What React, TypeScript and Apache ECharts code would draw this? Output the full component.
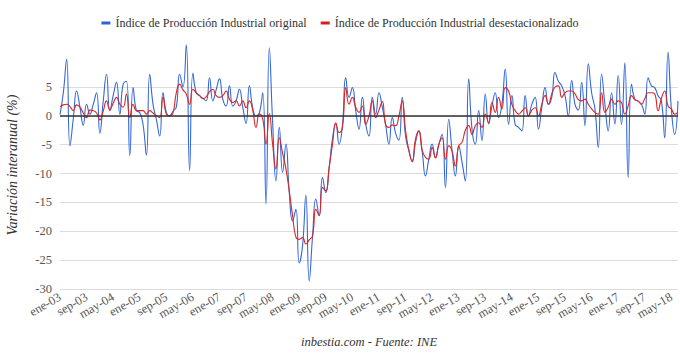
import React, { useEffect, useRef } from "react";
import * as echarts from "echarts";

const MONTH_NAMES = ["ene", "feb", "mar", "abr", "may", "jun", "jul", "ago", "sep", "oct", "nov", "dic"];
const START_YEAR = 2003;
const N_POINTS = 187; // ene-03 .. jul-18

const categories: string[] = [];
for (let k = 0; k < N_POINTS; k++) {
  const y = START_YEAR + Math.floor(k / 12);
  categories.push(MONTH_NAMES[k % 12] + "-" + String(y % 100).padStart(2, "0"));
}

const ipiOriginal = [
  0.2, 4, 9.8, -5.2, -0.5, 4.3, 1.5, -1.6, 2.0, 0.3, 2.0, 4.0,
  -3.0, 2.5, 7.2, 0.9, 3.5, 5.8, 0.3, 5.5, 6.0, -6.9, 4.9, 0.9,
  0.6, -1.5, -6.8, 7.2, 2.0, -0.6, -3.5, 4.0, 0.6, 0, 0.8, 1.5,
  7.2, 5.0, 12.3, -9.5, 7.4, 4.0, 3.5, 3.0, 2.6, 6.6, 2.6, 4.5,
  6.4, 2.9, 1.7, 5.2, 1.7, 2.6, 4.6, 1.5, -1.3, 5.2, 1.4, 0,
  0.5, 4.0, -15.3, 11.8, -1.2, -11.3, -2.0, -9.8, -4.9, -13.3, -18.2, -16.2,
  -25.5, -22.5, -13.7, -28.6, -21, -14.4, -17.3, -10.7, -13.3, -9, -4, -1.4,
  -4.9, -1.7, 6.6, 3.2, 4.9, 0.9, -2.3, 3.2, -1.4, -3.5, 3.2, 0.3,
  4.0, 1.5, -1.5, -4.9, -0.3, -3, -4.2, 3.2, -3.5, -6, -7.8, -4.6,
  -2.6, -6.1, -10.4, -7.5, -4.9, -7.2, -5, -3.2, -12.4, -0.6, -6, -10.4,
  -5.2, -8, -11.3, 6.4, -2.3, -4.9, 0.9, -4.3, 3.8, -1.4, 1.7, 4.0,
  -0.3, 2.0, 8.1, -1.5, 3.5, -1.5, -2.0, -2.6, 3.5, 0, 2, 3.2,
  -2.3, 1.4, 4.9, 2.0, 3.2, 7.5, 6, 5.2, 3.5, 0, 6.1, 2.0,
  1.0, 5.8, -1.7, 9.0, 4.0, 1.2, -5.5, 7.2, 2.0, -2.6, 4.0, -1.4,
  7.0, -1.5, 9.2, -10.7, 5.5, 2.9, 2.5, 2.0, 0.3, 6.6, 5.2, 4.9,
  3.5, 2.6, -3.8, 11.0, 1.2, -3.2, 2.6,
];

const ipiDesest = [
  1.6, 1.9, 2.0, 1.6, 0.9, 1.9, 1.5, 0.5, -0.3, 1.0, 0.9, 0.5,
  -0.7, 0.8, 2.6, 1.0, 2.2, 3.2, 2.0, 1.5, 3.8, -0.3, 2.0, 0.9,
  0.9, 0.9, 0.3, 0.9, 0.5, 0, -0.3, 3.2, 0.3, 0, 0.5, 4.0,
  5.5, 4.5, 3.8, 2.0, 4.6, 4.0, 3.5, 3.0, 3.3, 4.2, 4.6, 3.5,
  3.2, 3.5, 4.3, 2.9, 2.3, 2.6, 1.7, 2.6, 1.4, 2.6, 1.0, -2.0,
  0.3, -0.5, -4.9, 0.4, -5, -9.2, -3.8, -6.5, -9.2, -13, -17.3, -21.0,
  -21.4, -21.1, -22.2, -21.5, -20.8, -16.2, -17.3, -12.4, -13, -9, -5, -1.2,
  -2.9, -2, 4.9, 2.0, 3.2, 1.5, 0.6, 1.7, -1.5, 0, 2.6, -0.3,
  1.0, 2.5, -1.5, -2.0, -1.6, -1.7, 0, 2.6, -2.5, -6, -8, -4,
  -2.6, -6, -7.2, -7.5, -5.5, -7.3, -5, -3.8, -7.5, -5.2, -6.1, -8.7,
  -5.2, -4.6, -2.5, -1.7, -3.2, -1.7, -1.2, -2.0, 0.3, -1.2, 2.3, 0.6,
  3.2, 1.2, 4.9, 4.3, 2, 0.9, 0.3, 0.8, 1.4, 0, 1.0, 1.4,
  0, 2.0, 3.5, 2.0, 3.8, 5.0, 5.2, 3.2, 4.0, 4.3, 4.3, 3.8,
  2.8, 2.6, 2.9, 2.0, 1.2, 0.6, 0.3, 4.0, 0.6, 1.5, 2.9, 2.0,
  2.6, 2.3, 0.3, 1.7, 3.5, 2.8, 2.6, 2.0, 3.0, 4.0, 4.0, 3.8,
  0.9, 3.0, 4.3, 1.7, 1.2, 0.3, 0.6,
];

const SERIES_NAMES = [
  "Índice de Producción Industrial original",
  "Índice de Producción Industrial desestacionalizado",
];
const Y_TITLE = "Variación interanual (%)";
const SOURCE = "inbestia.com - Fuente: INE";

const FONT = "'Liberation Serif', 'Times New Roman', serif";

export default function App() {
  const ref = useRef<HTMLDivElement>(null);
  useEffect(() => {
    if (!ref.current) return;
    const chart = echarts.init(ref.current, null, { renderer: "svg" });
    chart.setOption({
      animation: false,
      backgroundColor: "#ffffff",
      textStyle: { fontFamily: FONT },
      legend: {
        top: 12,
        left: "center",
        icon: "rect",
        itemWidth: 9,
        itemHeight: 3,
        itemGap: 14,
        textStyle: { fontFamily: FONT, fontSize: 12, color: "#333" },
        data: SERIES_NAMES,
      },
      grid: { left: 60, right: 2, top: 87, bottom: 64 },
      xAxis: {
        type: "category",
        data: categories,
        boundaryGap: false,
        axisLine: { show: false },
        axisTick: { show: false },
        splitLine: { show: false },
        axisLabel: {
          interval: 7,
          rotate: 30,
          margin: 7,
          fontFamily: FONT,
          fontSize: 12.5,
          color: "#555",
        },
      },
      yAxis: {
        type: "value",
        min: -30,
        max: 5,
        interval: 5,
        axisLine: { show: false },
        axisTick: { show: false },
        axisLabel: { margin: 8, fontFamily: FONT, fontSize: 12.5, color: "#555" },
        splitLine: { lineStyle: { color: "#dcdcdc", width: 1 } },
      },
      graphic: [
        {
          type: "text",
          x: 12,
          y: 165,
          rotation: Math.PI / 2,
          style: {
            text: Y_TITLE,
            fontFamily: FONT,
            fontSize: 14,
            fontStyle: "italic",
            fill: "#333",
            textAlign: "center",
            textVerticalAlign: "middle",
          },
        },
        {
          type: "text",
          x: 369,
          y: 342,
          style: {
            text: SOURCE,
            fontFamily: FONT,
            fontSize: 12.5,
            fontStyle: "italic",
            fill: "#333",
            textAlign: "center",
            textVerticalAlign: "middle",
          },
        },
      ],
      series: [
        {
          name: SERIES_NAMES[0],
          type: "line",
          data: ipiOriginal,
          smooth: 0.5,
          showSymbol: false,
          clip: false,
          color: "#2f62d6",
          lineStyle: { width: 1.1, color: "#3468d8" },
          markLine: {
            silent: true,
            symbol: "none",
            label: { show: false },
            lineStyle: { color: "#333", width: 1.5, type: "solid" },
            data: [{ yAxis: 0 }],
          },
        },
        {
          name: SERIES_NAMES[1],
          type: "line",
          data: ipiDesest,
          smooth: 0.5,
          showSymbol: false,
          clip: false,
          color: "#d91e1e",
          lineStyle: { width: 1.1, color: "#d92626" },
        },
      ],
    });
    return () => chart.dispose();
  }, []);
  return (
    <div
      ref={ref}
      style={{ position: "fixed", left: 0, top: 0, width: 680, height: 353 }}
    />
  );
}
